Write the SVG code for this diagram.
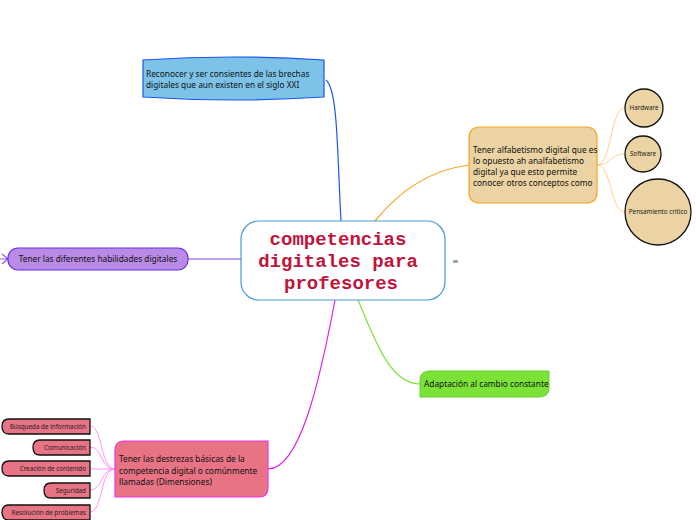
<svg xmlns="http://www.w3.org/2000/svg" width="696" height="520" viewBox="0 0 696 520">
<style>
.t{font-family:"Noto Sans","Open Sans",sans-serif;font-size:8.3px;fill:#111}
.s{font-family:"Noto Sans","Open Sans",sans-serif;font-size:6.3px;fill:#222}
.c{fill:none;stroke-width:1.2}
.sm{fill:#e87385;stroke:#111;stroke-width:1.3}
.ci{fill:#ecd3a3;stroke:#111;stroke-width:1.3}
</style>
<rect width="696" height="520" fill="#fff"/>
<g id="connectors">
<path class="c" stroke="#1a56f0" stroke-width="1.5" d="M341,221 C337,150 338,90 326,80"/>
<path class="c" stroke="#f5a623" d="M375,221 C400,190 430,170 469,165"/>
<path class="c" stroke="#7b45e0" d="M241,259 L188,259"/>
<path class="c" stroke="#8a5ae8" d="M8,259 L2,254 M8,259 L2,264 M8,259 L0,259"/>
<path class="c" stroke="#7be337" d="M358,300 C375,340 390,384 420,384"/>
<path class="c" stroke="#e020e0" d="M335,300 C320,380 300,469 268,469"/>
<g stroke="#ff88ff" fill="none" stroke-width="0.9">
<path d="M115,469 C100,469 103,426 90,426"/>
<path d="M115,469 C100,469 103,447 90,447"/>
<path d="M115,469 L90,469"/>
<path d="M115,469 C100,469 103,490 90,490"/>
<path d="M115,469 C100,469 103,512 90,512"/>
</g>
<g stroke="#ffc880" fill="none" stroke-width="0.9">
<path d="M597,165 C612,165 610,108 625,108"/>
<path d="M597,165 C612,165 610,154 624,154"/>
<path d="M597,165 C612,165 610,212 625,212"/>
</g>
</g>
<g id="center">
<rect x="241" y="221" width="204" height="79" rx="18" fill="#fff" stroke="#4a9ad8" stroke-width="1.2"/>
<g font-family="Liberation Mono,monospace" font-weight="bold" font-size="19" fill="#c0143c" text-anchor="middle">
<text x="338" y="245">competencias</text>
<text x="338" y="267">digitales para</text>
<text x="341" y="289">profesores</text>
</g>
<text x="452" y="264" font-family="DejaVu Sans,sans-serif" font-size="8" fill="#556">≡</text>
</g>
<g id="brechas">
<path d="M143,60 Q233,54 324,60 L324,97 Q233,103 143,97 Z" fill="#7dc3e8" stroke="#1a56f0" stroke-width="1.2"/>
<text class="t" x="146" y="77">Reconocer y ser consientes de las brechas</text>
<text class="t" x="146" y="88">digitales que aun existen en el siglo XXI</text>
</g>
<g id="alfabetismo">
<path d="M469,138 Q469,127 480,127 L586,127 Q597,127 597,138 L597,192 Q597,203 586,203 L480,203 Q469,203 469,192 Z" fill="#ecd3a3" stroke="#f5a623" stroke-width="1.2"/>
<text class="t" x="473" y="153">Tener alfabetismo digital que es</text>
<text class="t" x="473" y="164">lo opuesto ah analfabetismo</text>
<text class="t" x="473" y="175">digital ya que esto permite</text>
<text class="t" x="473" y="186">conocer otros conceptos como</text>
</g>
<g id="hardware"><circle class="ci" cx="644" cy="108" r="19"/><text class="s" x="644" y="110" text-anchor="middle">Hardware</text></g>
<g id="software"><circle class="ci" cx="643" cy="154" r="18"/><text class="s" x="643" y="156" text-anchor="middle">Software</text></g>
<g id="pensamiento"><circle class="ci" cx="658" cy="212" r="33"/><text class="s" x="658" y="214" text-anchor="middle">Pensamiento critico</text></g>
<g id="habilidades">
<rect x="8" y="248" width="180" height="22" rx="10" fill="#b98ae6" stroke="#6a2de0" stroke-width="1.2"/>
<text class="t" x="98" y="262" text-anchor="middle">Tener las diferentes habilidades digitales</text>
</g>
<g id="adaptacion">
<path d="M420,380 Q420,371 430,371 L549,371 L549,388 Q549,397 539,397 L420,397 Z" fill="#7be337" stroke="#6ad02a" stroke-width="1"/>
<text class="t" x="424" y="387">Adaptación al cambio constante</text>
</g>
<g id="destrezas">
<path d="M115,450 Q115,441 124,441 L268,441 L268,488 Q268,497 259,497 L115,497 Z" fill="#e87385" stroke="#ee33ee" stroke-width="1.2"/>
<text class="t" x="119" y="462">Tener las destrezas básicas de la</text>
<text class="t" x="119" y="474">competencia digital o comúnmente</text>
<text class="t" x="119" y="485">llamadas (Dimensiones)</text>
</g>
<g id="busqueda"><path class="sm" d="M9,419 L90,419 L90,434 L9,434 Q2,434 2,426.5 Q2,419 9,419 Z"/><text class="s" x="86" y="429" text-anchor="end">Búsqueda de información</text></g>
<g id="comunicacion"><path class="sm" d="M40,440 L90,440 L90,455 L40,455 Q33,455 33,447.5 Q33,440 40,440 Z"/><text class="s" x="86" y="450" text-anchor="end">Comunicación</text></g>
<g id="creacion"><path class="sm" d="M9,461 L90,461 L90,476 L9,476 Q2,476 2,468.5 Q2,461 9,461 Z"/><text class="s" x="86" y="471" text-anchor="end">Creación de contenido</text></g>
<g id="seguridad"><path class="sm" d="M51,483 L90,483 L90,498 L51,498 Q44,498 44,490.5 Q44,483 51,483 Z"/><text class="s" x="86" y="493" text-anchor="end">Seguridad</text></g>
<g id="resolucion"><path class="sm" d="M9,505 L90,505 L90,520 L9,520 Q2,520 2,512.5 Q2,505 9,505 Z"/><text class="s" x="86" y="515" text-anchor="end">Resolución de problemas</text></g>
</svg>
